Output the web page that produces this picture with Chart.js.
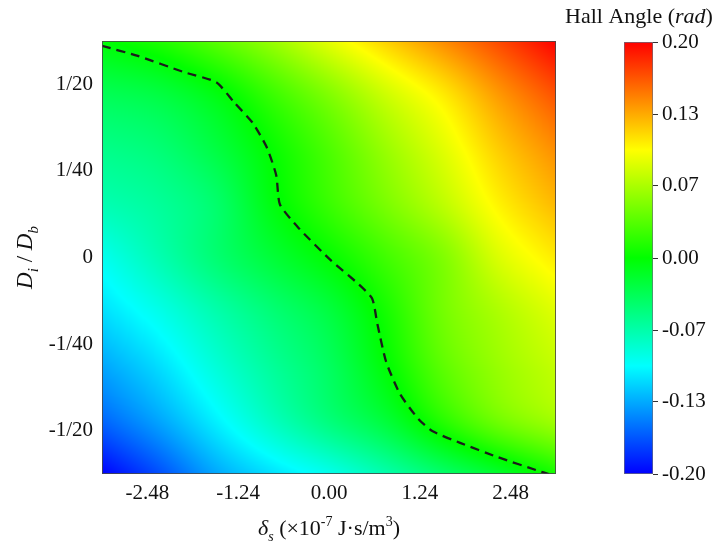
<!DOCTYPE html>
<html>
<head>
<meta charset="utf-8">
<script src="https://cdn.jsdelivr.net/npm/chart.js@4.4.1/dist/chart.umd.min.js"></script>
<style>
  html, body { margin: 0; padding: 0; background: #fff; }
  #wrap { position: relative; width: 720px; height: 554px; }
  #main { position: absolute; left: 0; top: 0; }
  #bar { position: absolute; left: 560px; top: 0; }
</style>
</head>
<body>
<div id="wrap">
  <canvas id="main" width="720" height="554"></canvas>
  <canvas id="bar" width="160" height="554"></canvas>
</div>
<script>
// Grid nodes: delta_s (x1e-7 J.s/m^3) and Di/Db
const deltaNodes = [-3.1, -2.325, -1.55, -0.775, 0, 0.775, 1.55, 2.325, 3.1];
const ratioNodes = [0.0625, 0.046875, 0.03125, 0.015625, 0, -0.015625, -0.03125, -0.046875, -0.0625];

// Hall angle (rad), one row per ratio node (top to bottom)
const hallRow0 = [-0.002, 0.012, 0.035, 0.060, 0.090, 0.118, 0.145, 0.172, 0.200];
const hallRow1 = [-0.034, -0.026, -0.007, 0.022, 0.050, 0.080, 0.107, 0.140, 0.168];
const hallRow2 = [-0.054, -0.046, -0.026, 0.002, 0.030, 0.060, 0.088, 0.120, 0.145];
const hallRow3 = [-0.070, -0.060, -0.042, -0.006, 0.022, 0.048, 0.074, 0.105, 0.128];
const hallRow4 = [-0.094, -0.070, -0.045, -0.022, 0.000, 0.025, 0.050, 0.086, 0.108];
const hallRow5 = [-0.113, -0.092, -0.068, -0.046, -0.025, 0.008, 0.045, 0.068, 0.088];
const hallRow6 = [-0.135, -0.113, -0.085, -0.060, -0.037, -0.002, 0.036, 0.060, 0.077];
const hallRow7 = [-0.160, -0.135, -0.105, -0.075, -0.048, -0.022, 0.015, 0.045, 0.064];
const hallRow8 = [-0.200, -0.170, -0.135, -0.112, -0.093, -0.068, -0.042, -0.018, 0.008];
const hallAngle = [hallRow0, hallRow1, hallRow2, hallRow3, hallRow4, hallRow5, hallRow6, hallRow7, hallRow8];

// Zero Hall angle contour
const contourDelta = [-3.10, -2.61, -1.98, -1.54, -1.30, -1.04, -0.85, -0.72, -0.67, -0.41, 0.03, 0.41, 0.59, 0.66, 0.78, 0.97, 1.22, 1.41, 1.79, 2.30, 2.86, 3.00];
const contourRatio = [0.0611, 0.0582, 0.0535, 0.0506, 0.0449, 0.0388, 0.0318, 0.0237, 0.0153, 0.0084, -0.0009, -0.0078, -0.0119, -0.0191, -0.0301, -0.0394, -0.0466, -0.0501, -0.0535, -0.0576, -0.0616, -0.0625];

// Axis ticks
const deltaTicks = [-2.48, -1.24, 0, 1.24, 2.48];
const ratioTicks = [-0.05, -0.025, 0, 0.025, 0.05];
const ratioLabels = ['-1/20', '-1/40', '0', '1/40', '1/20'];
const hallTicks = [-0.2, -0.1333, -0.0667, 0, 0.0667, 0.1333, 0.2];
const hallMin = -0.2, hallMax = 0.2;

const FONT = '"Liberation Serif", "Times New Roman", serif';
const jet = [[0, 0, 255], [0, 255, 255], [0, 255, 0], [255, 255, 0], [255, 0, 0]];

function colourFor(v) {
  let t = (v - hallMin) / (hallMax - hallMin);
  t = Math.max(0, Math.min(1, t)) * (jet.length - 1);
  const k = Math.min(jet.length - 2, Math.floor(t));
  const f = t - k;
  const a = jet[k], b = jet[k + 1];
  return [a[0] + (b[0] - a[0]) * f, a[1] + (b[1] - a[1]) * f, a[2] + (b[2] - a[2]) * f];
}

function locate(nodes, v) {
  const asc = nodes[1] > nodes[0];
  for (let i = 0; i < nodes.length - 1; i++) {
    const lo = nodes[i], hi = nodes[i + 1];
    if ((asc && v <= hi) || (!asc && v >= hi)) {
      return [i, Math.max(0, Math.min(1, (v - lo) / (hi - lo)))];
    }
  }
  return [nodes.length - 2, 1];
}

// grid value with linear extension past the edges
function node(r, c) {
  const n = hallAngle.length, m = hallRow0.length;
  if (r < 0) return 2 * node(0, c) - node(1, c);
  if (r >= n) return 2 * node(n - 1, c) - node(n - 2, c);
  if (c < 0) return 2 * hallAngle[r][0] - hallAngle[r][1];
  if (c >= m) return 2 * hallAngle[r][m - 1] - hallAngle[r][m - 2];
  return hallAngle[r][c];
}

function catmull(p0, p1, p2, p3, t) {
  return 0.5 * (2 * p1 + (p2 - p0) * t + (2 * p0 - 5 * p1 + 4 * p2 - p3) * t * t + (3 * p1 - p0 - 3 * p2 + p3) * t * t * t);
}

function sampleHall(dx, ry) {
  const [i, fx] = locate(deltaNodes, dx);
  const [j, fy] = locate(ratioNodes, ry);
  const rows = [];
  for (let r = j - 1; r <= j + 2; r++) {
    rows.push(catmull(node(r, i - 1), node(r, i), node(r, i + 1), node(r, i + 2), fx));
  }
  return catmull(rows[0], rows[1], rows[2], rows[3], fy);
}

// Shade the plot area from the grid
const heatmapPlugin = {
  id: 'heatmap',
  beforeDatasetsDraw(chart) {
    const { ctx, chartArea: a, scales: { x, y } } = chart;
    const left = Math.round(a.left), top = Math.round(a.top);
    const w = Math.round(a.right) - left, h = Math.round(a.bottom) - top;
    const img = ctx.createImageData(w, h);
    for (let j = 0; j < h; j++) {
      const ry = y.getValueForPixel(top + j + 0.5);
      for (let i = 0; i < w; i++) {
        const dx = x.getValueForPixel(left + i + 0.5);
        const c = colourFor(sampleHall(dx, ry));
        const p = (j * w + i) * 4;
        img.data[p] = c[0]; img.data[p + 1] = c[1]; img.data[p + 2] = c[2]; img.data[p + 3] = 255;
      }
    }
    ctx.putImageData(img, left, top);
  },
  afterDatasetsDraw(chart) {
    const { ctx, chartArea: a } = chart;
    ctx.save();
    ctx.strokeStyle = 'rgba(70,70,70,0.85)';
    ctx.lineWidth = 1;
    ctx.strokeRect(Math.round(a.left) + 0.5, Math.round(a.top) + 0.5, Math.round(a.right - a.left) - 1, Math.round(a.bottom - a.top) - 1);
    ctx.restore();
  }
};

// Text with italic / subscript / superscript runs
function drawRich(ctx, parts, cx, baseline, size) {
  const small = Math.round(size * 0.64);
  const fontOf = p => (p.it ? 'italic ' : '') + ((p.sub || p.sup) ? small : size) + 'px ' + FONT;
  let total = 0;
  parts.forEach(p => { ctx.font = fontOf(p); p.w = ctx.measureText(p.t).width; total += p.w; });
  let x = cx - total / 2;
  ctx.textAlign = 'left';
  ctx.textBaseline = 'alphabetic';
  parts.forEach(p => {
    ctx.font = fontOf(p);
    const dy = p.sub ? size * 0.25 : p.sup ? -size * 0.4 : 0;
    ctx.fillText(p.t, x, baseline + dy);
    x += p.w;
  });
}

const axisTitlePlugin = {
  id: 'axisTitles',
  afterDraw(chart) {
    const { ctx, chartArea: a } = chart;
    ctx.save();
    ctx.fillStyle = '#111';
    drawRich(ctx, [
      { t: 'δ', it: true }, { t: 's', it: true, sub: true },
      { t: ' (×10' }, { t: '-7', sup: true }, { t: ' J·s/m' }, { t: '3', sup: true }, { t: ')' }
    ], (a.left + a.right) / 2, 535, 22);
    ctx.translate(26, (a.top + a.bottom) / 2);
    ctx.rotate(-Math.PI / 2);
    drawRich(ctx, [
      { t: 'D', it: true }, { t: 'i', it: true, sub: true },
      { t: ' / ' },
      { t: 'D', it: true }, { t: 'b', it: true, sub: true }
    ], 0, 6, 23);
    ctx.restore();
  }
};

const contourPts = contourDelta.map((d, i) => ({ x: d, y: contourRatio[i] }));

new Chart(document.getElementById('main'), {
  type: 'scatter',
  data: {
    datasets: [{
      data: contourPts,
      showLine: true,
      borderColor: '#1c1c1c',
      borderWidth: 2.3,
      borderDash: [9, 6],
      pointRadius: 0,
      tension: 0.2,
      fill: false
    }]
  },
  options: {
    responsive: false,
    animation: false,
    events: [],
    layout: { padding: { left: 0, top: 41, right: 164, bottom: 0 } },
    plugins: { legend: { display: false }, tooltip: { enabled: false } },
    scales: {
      x: {
        type: 'linear', min: -3.1, max: 3.1,
        grid: { display: false, drawTicks: false },
        border: { display: false },
        ticks: { padding: 7, color: '#111', font: { family: FONT, size: 21 }, callback: v => v.toFixed(2) },
        afterBuildTicks: s => { s.ticks = deltaTicks.map(v => ({ value: v })); },
        afterFit: s => { s.height = 80; }
      },
      y: {
        type: 'linear', min: -0.0625, max: 0.0625,
        grid: { display: false, drawTicks: false },
        border: { display: false },
        ticks: {
          padding: 9, color: '#111', font: { family: FONT, size: 21 },
          callback: v => ratioLabels[ratioTicks.findIndex(t => Math.abs(t - v) < 1e-9)]
        },
        afterBuildTicks: s => { s.ticks = ratioTicks.map(v => ({ value: v })); },
        afterFit: s => { s.width = 102; }
      }
    }
  },
  plugins: [heatmapPlugin, axisTitlePlugin]
});

// Colour bar
const barTitlePlugin = {
  id: 'barTitle',
  afterDraw(chart) {
    const { ctx } = chart;
    ctx.save();
    ctx.fillStyle = '#111';
    drawRich(ctx, [{ t: 'Hall Angle (' }, { t: 'rad', it: true }, { t: ')' }], 79, 23, 22);
    ctx.restore();
  }
};

new Chart(document.getElementById('bar'), {
  type: 'bar',
  data: {
    labels: [''],
    datasets: [{
      data: [[hallMin, hallMax]],
      backgroundColor: c => {
        const a = c.chart.chartArea;
        if (!a) return '#0f0';
        const g = c.chart.ctx.createLinearGradient(0, a.bottom, 0, a.top);
        jet.forEach((rgb, k) => g.addColorStop(k / (jet.length - 1), 'rgb(' + rgb.join(',') + ')'));
        return g;
      },
      borderColor: 'rgba(90,90,110,0.9)',
      borderWidth: 1,
      borderSkipped: false,
      barPercentage: 1,
      categoryPercentage: 1
    }]
  },
  options: {
    responsive: false,
    animation: false,
    events: [],
    layout: { padding: { left: 64, top: 42, right: 0, bottom: 80 } },
    plugins: { legend: { display: false }, tooltip: { enabled: false } },
    scales: {
      x: { display: false },
      y: {
        position: 'right', min: hallMin, max: hallMax,
        grid: { drawOnChartArea: false, tickLength: 5, color: '#333', lineWidth: 1 },
        border: { display: false },
        ticks: { padding: 4, color: '#111', font: { family: FONT, size: 21 }, callback: v => v.toFixed(2) },
        afterBuildTicks: s => { s.ticks = hallTicks.map(v => ({ value: v })); },
        afterFit: s => { s.width = 67; }
      }
    }
  },
  plugins: [barTitlePlugin]
});
</script>
</body>
</html>
